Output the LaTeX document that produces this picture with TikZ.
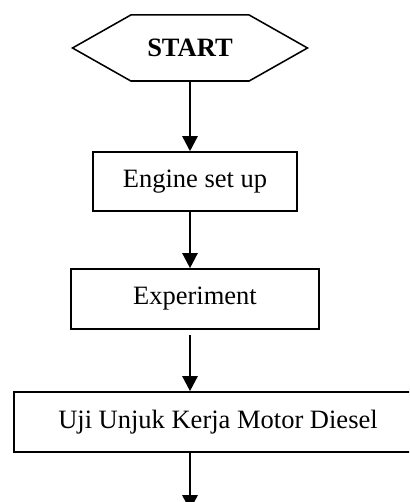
\documentclass[tikz,border=0pt]{standalone}
\usepackage{fontspec}
\setmainfont{Liberation Serif}
\usetikzlibrary{shapes.symbols,arrows.meta}
\begin{document}
\begin{tikzpicture}[box/.style={draw,line width=0.7pt,inner sep=0pt,font=\fontsize{12}{14}\selectfont},
	hexa/.style={box,shape=signal,signal to=west and east,signal pointer angle=59},
	arr/.style={line width=1.1pt,-{Triangle[length=6.8pt,width=6.8pt]}}]

	\clip (-86.03pt,21.73pt) rectangle (99.16pt,-205.57pt);
	\node[hexa,minimum width=106.4pt,minimum height=29.9pt,font=\fontsize{12}{14}\selectfont\bfseries] (start) {START};
	\node[box,minimum width=92.4pt,minimum height=26.7pt] (setup) [below of=start, node distance=60.45pt, xshift=2.26pt] {Engine set up};
	\draw[arr] (start.south) -- (start.south |- setup.north);
	\node[box,minimum width=112.3pt,minimum height=27.2pt] (exp) [below of=setup, node distance=53.2pt] {Experiment};
	\draw[arr] (setup.south -| start.south) -- (exp.north -| start.south);
	\node[box,minimum width=184.7pt,minimum height=27.2pt] (uji) [below of=exp, node distance=55.7pt, xshift=10.41pt] {Uji Unjuk Kerja Motor Diesel};
	\draw[arr, shorten <=2.3pt] (exp.south -| start.south) -- (uji.north -| start.south);
	\coordinate (next) at ([yshift=-26pt] uji.south -| start.south);
	\draw[arr] (uji.south -| start.south) -- (next);

\end{tikzpicture}
\end{document}
